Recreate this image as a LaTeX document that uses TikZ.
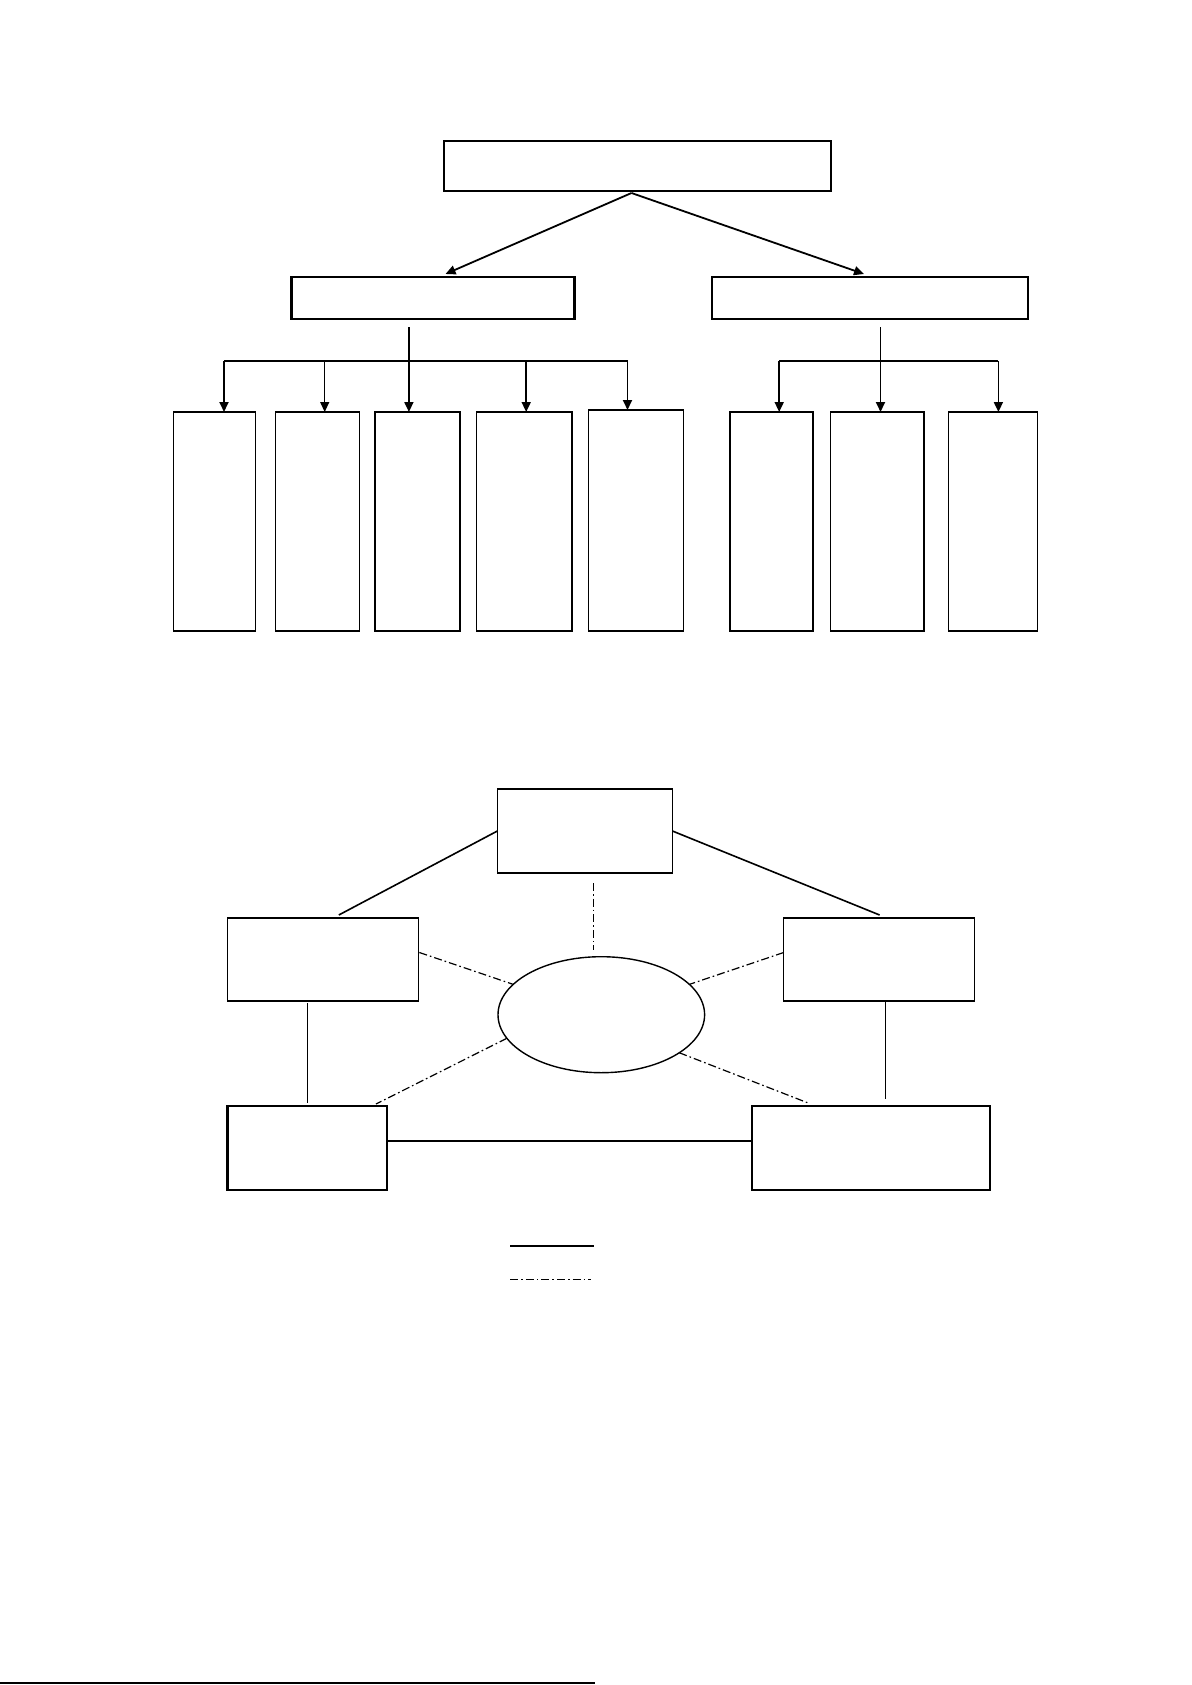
\documentclass[tikz,border=0pt]{standalone}
\usetikzlibrary{arrows.meta,shapes.geometric}
\begin{document}
\begin{tikzpicture}[x=0.5pt,y=-0.5pt,
  bx/.style={draw, rectangle, inner sep=0pt, outer sep=0pt, line width=0.7pt},
  thickbox/.style={bx, line width=1.2pt},
  arr/.style={-{Triangle[length=5pt,width=4.5pt]}, line width=0.9pt},
  conn/.style={line width=0.9pt},
  thinline/.style={line width=0.5pt},
  dd/.style={line width=0.6pt, dash pattern=on 4pt off 1.5pt on 0.8pt off 1.5pt}]
\useasboundingbox (0,0) rectangle (1191,1685);
\newcommand\rbx[6][bx]{\node[#1, minimum width={(#5-#3)*0.5pt}, minimum height={(#6-#4)*0.5pt}] (#2) at ({(#3+#5)/2},{(#4+#6)/2}) {};}
% ---------- upper tree ----------
\rbx{top}{444}{141}{831}{191}
\rbx[thickbox]{L}{291.5}{277}{574.3}{319}
\rbx[thickbox]{R}{712.2}{277}{1028.2}{319}
\rbx{b1}{173.6}{412}{255.4}{631}
\rbx{b2}{275.5}{412}{359.6}{631}
\rbx{b3}{375}{412}{459.8}{631}
\rbx{b4}{476.4}{412}{572}{631}
\rbx{b5}{588.6}{410}{683.6}{631}
\rbx{b6}{730}{412}{813}{631}
\rbx{b7}{830.7}{412}{924}{631}
\rbx{b8}{948.7}{412}{1037.4}{631}
\draw[arr] ([shift={(-6,2)}]top.south) -- ([shift={(12.6,-3)}]L.north);
\draw[arr] ([shift={(-6,2)}]top.south) -- ([shift={(-6.2,-3)}]R.north);
% left branch
\coordinate (jL) at (408.9,327);
\coordinate (bL1) at (224,361);
\coordinate (bL2) at (324.7,361);
\coordinate (bL4) at (526.2,361);
\coordinate (bL5) at (627.5,361);
\draw[conn] (bL1) -- (bL5);
\draw[arr] (jL) -- (jL |- b3.north);
\draw[arr] (bL1) -- (bL1 |- b1.north);
\draw[arr,line width=0.6pt] (bL2) -- (bL2 |- b2.north);
\draw[arr] (bL4) -- (bL4 |- b4.north);
\draw[arr] (bL5) -- (bL5 |- b5.north);
% right branch
\coordinate (jR) at (880.5,327);
\coordinate (bR1) at (779.2,361);
\coordinate (bR3) at (998.4,361);
\draw[conn] (bR1) -- (bR3);
\draw[arr] (jR) -- (jR |- b7.north);
\draw[arr] (bR1) -- (bR1 |- b6.north);
\draw[arr] (bR3) -- (bR3 |- b8.north);
% ---------- lower diagram ----------
\rbx{T}{497.4}{789}{672.4}{873}
\rbx{LM}{227.6}{918}{418.4}{1001}
\rbx{RM}{783.7}{918}{974.5}{1001}
\node[ellipse, draw, line width=0.7pt, inner sep=0pt, outer sep=0pt,
      minimum width={206.6*0.5pt}, minimum height={116*0.5pt}] (E) at (601.3,1014.7) {};
\rbx[thickbox]{BL}{227.6}{1106}{386.7}{1190}
\rbx[thickbox]{BR}{752}{1106}{989.8}{1190}
\draw[line width=0.8pt] (T.west) -- ([shift={(15.8,-3)}]LM.north);
\draw[line width=0.8pt] (T.east) -- ([shift={(0.5,-3)}]RM.north);
\draw[dd] ([shift={(8.5,10)}]T.south) -- ([shift={(-7.9,-7)}]E.north);
\draw[dd] ([shift={(1,-7)}]LM.east) -- (E.161);
\draw[dd] ([shift={(0,-7)}]RM.west) -- (E.19);
\draw[dd] (E.194) -- ([shift={(-10.7,-2)}]BL.north east);
\draw[dd] (E.334) -- ([shift={(56.2,-3)}]BR.north west);
\draw[thinline] ([shift={(80.1,2)}]LM.south west) -- ([shift={(80.1,-3)}]BL.north west);
\draw[thinline] ([shift={(6.1,0)}]RM.south) -- ([shift={(14.3,-7)}]BR.north);
\draw[line width=0.6pt] ([shift={(0,-7)}]BL.east) -- ([shift={(0,-7)}]BR.west);
% legend
\coordinate (ls1) at (510.2,1245.7);
\coordinate (ls2) at (594.4,1245.7);
\coordinate (ld1) at (510.2,1279.3);
\coordinate (ld2) at (590.8,1279.3);
\draw[line width=1pt] (ls1) -- (ls2);
\draw[dd] (ld1) -- (ld2);
% footnote rule
\coordinate (f1) at (0,1683);
\coordinate (f2) at (595,1683);
\draw[line width=0.7pt] (f1) -- (f2);
\end{tikzpicture}
\end{document}
